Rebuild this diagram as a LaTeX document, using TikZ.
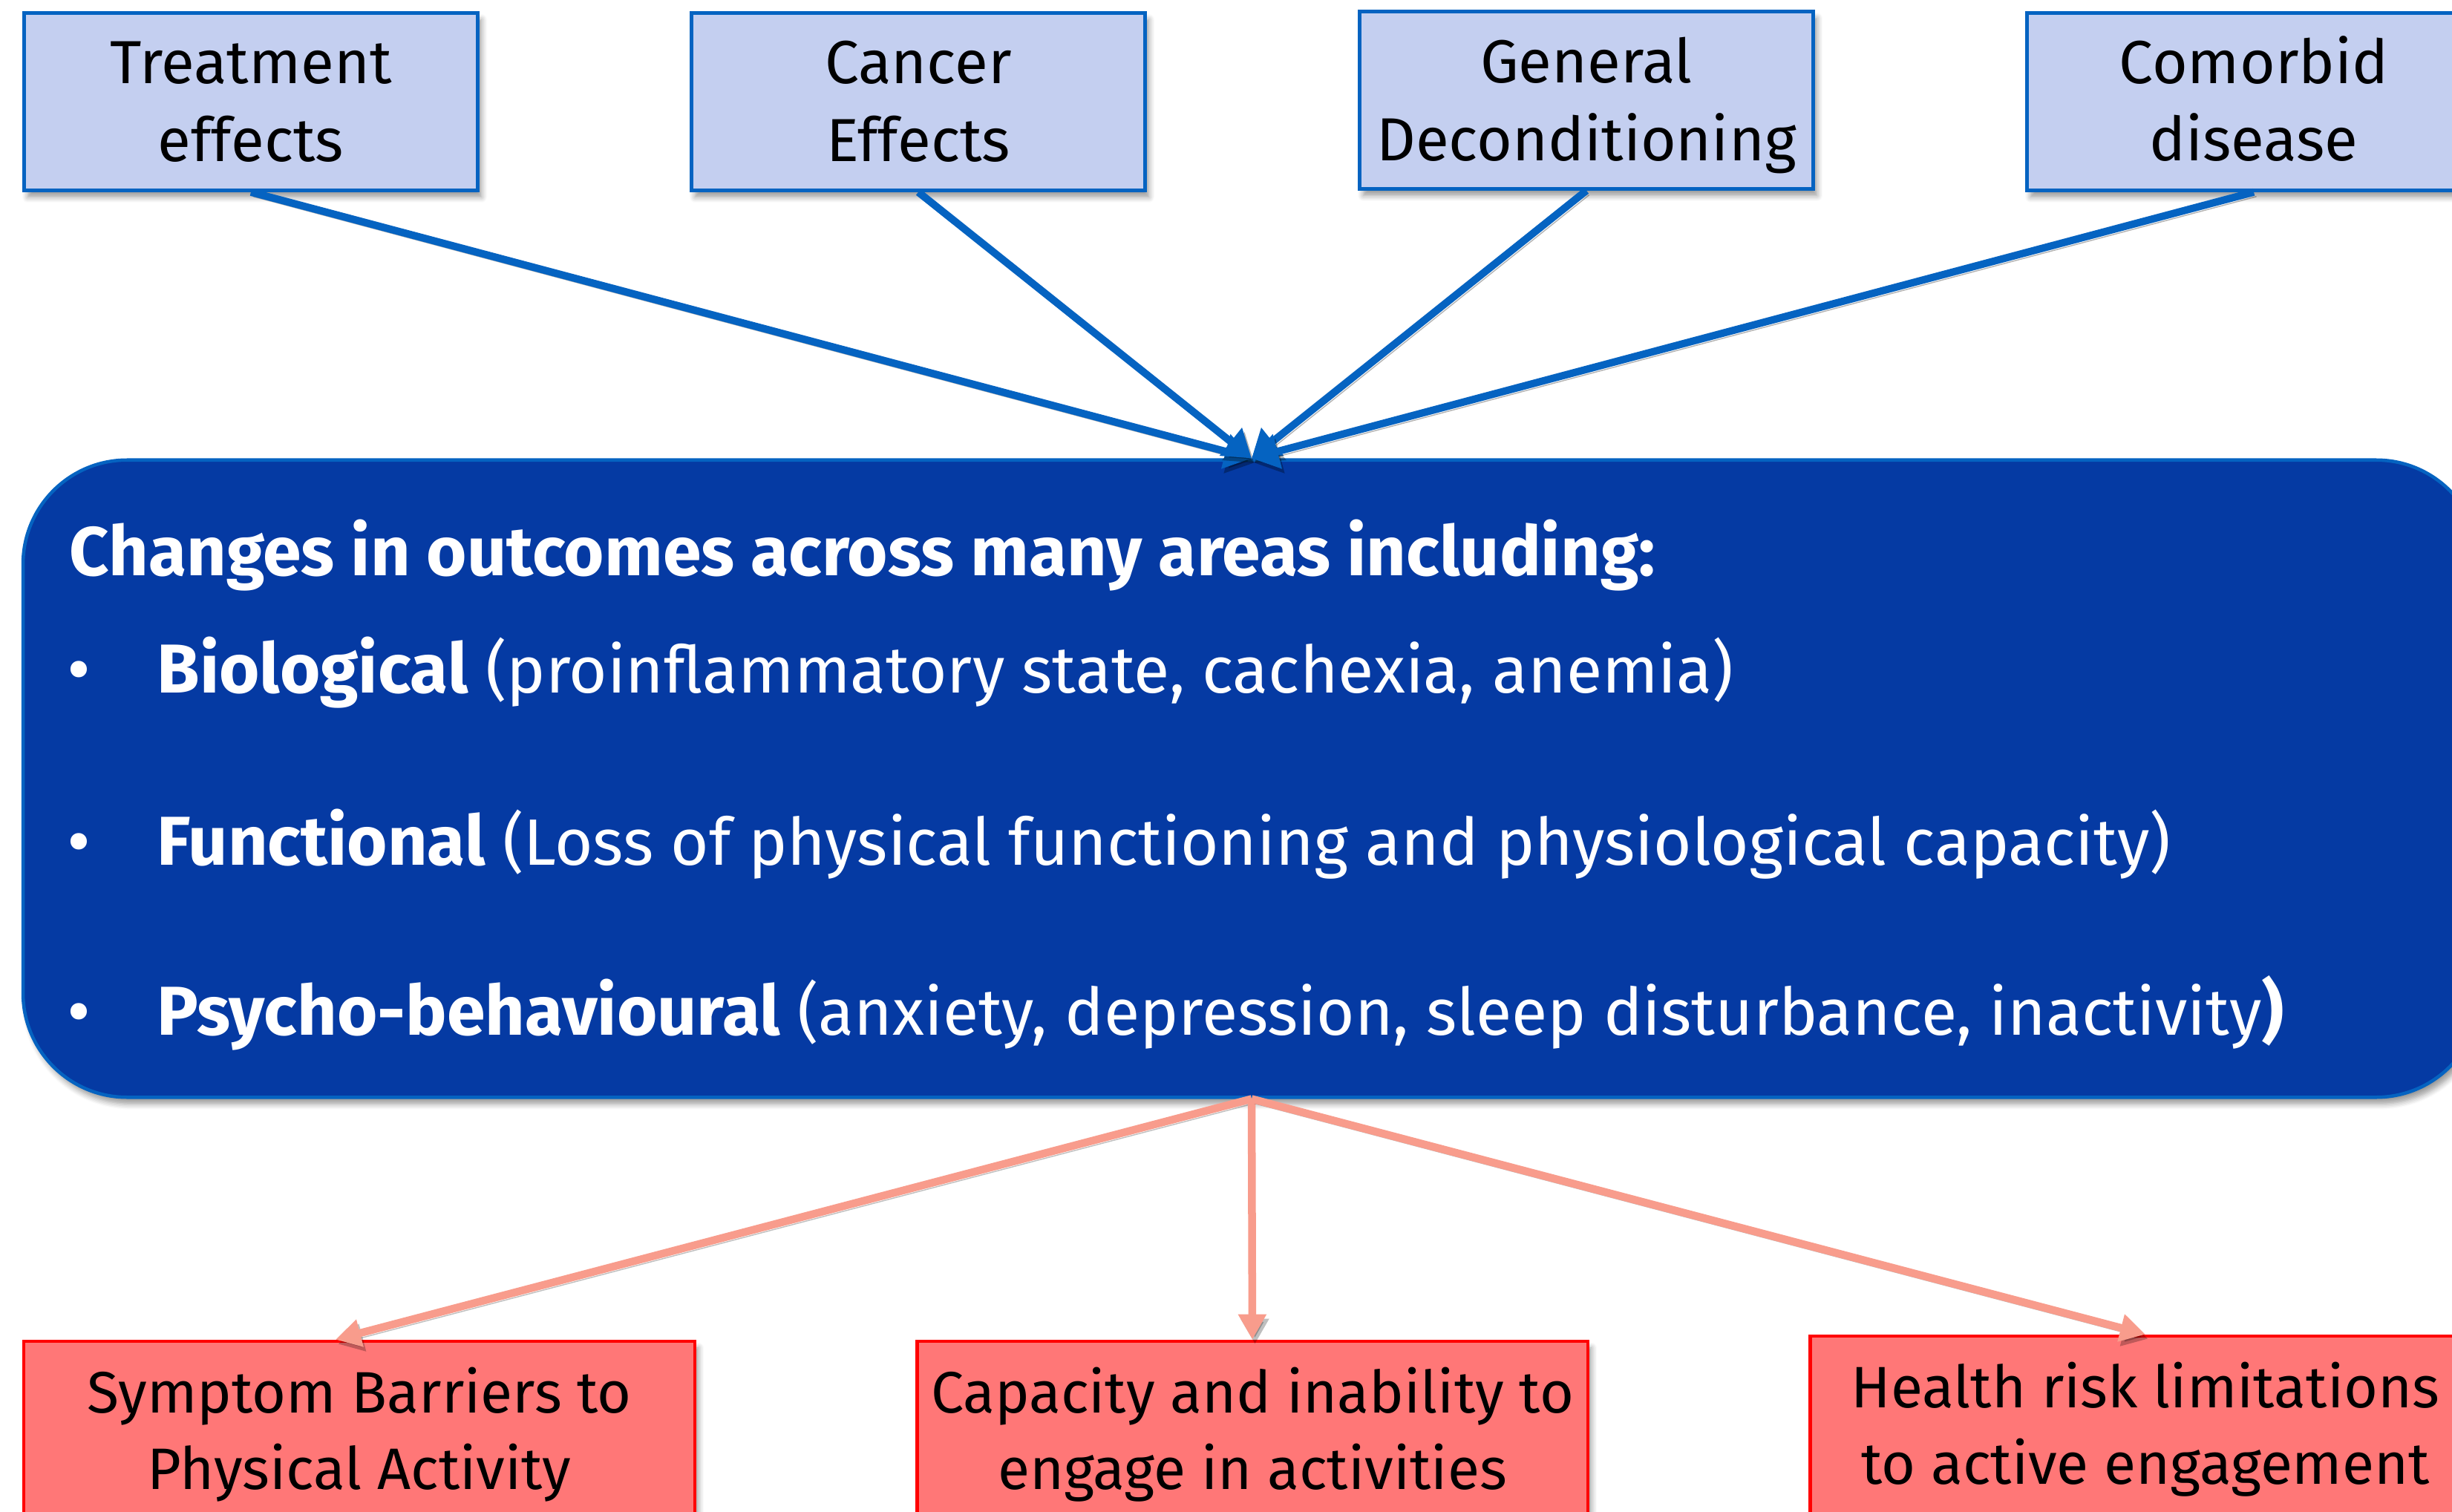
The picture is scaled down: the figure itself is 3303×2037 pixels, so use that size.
\documentclass[tikz,border=0pt]{standalone}
\usepackage{fontspec}
\setmainfont{Fira Sans}
\usetikzlibrary{arrows.meta,shadows.blur,calc}

\definecolor{lavbox}{RGB}{196,207,240}
\definecolor{edgeblue}{RGB}{5,99,193}
\definecolor{deepblue}{RGB}{5,58,163}
\definecolor{rosebox}{RGB}{255,119,119}
\definecolor{roseline}{RGB}{248,156,140}

% bold words in the summary box are set a little larger than the plain text
\newcommand{\keyword}[1]{{\fontsize{26.5}{30}\selectfont\bfseries #1}}

\tikzset{
  softshadow/.style={blur shadow={shadow xshift=0.5mm,shadow yshift=-0.9mm,shadow blur steps=6,shadow opacity=40}},
  causebox/.style={draw=edgeblue,line width=0.45mm,fill=lavbox,minimum width=6.11cm,minimum height=2.39cm,
    inner sep=0pt,softshadow},
  causetext/.style={align=center,inner sep=0pt,font=\fontsize{23.3}{29.8}\selectfont},
  resultbox/.style={draw=red,line width=0.45mm,fill=rosebox,minimum width=9.03cm,minimum height=2.4cm,
    inner sep=0pt,softshadow},
  resulttext/.style={align=center,inner sep=0pt,font=\fontsize{22.4}{29.3}\selectfont},
  hubbox/.style={draw=edgeblue,line width=0.45mm,fill=deepblue,rounded corners=1.4cm,
    minimum width=33.08cm,minimum height=8.58cm,inner sep=0pt,softshadow},
  hubtext/.style={anchor=base west,inner sep=0pt,text=white,font=\fontsize{25.1}{30}\selectfont},
  bulletmark/.style={hubtext,font=\fontsize{28}{30}\selectfont},
  inarrow/.style={draw=edgeblue,line width=0.1cm,-{Triangle[length=0.36cm,width=0.46cm]},
    preaction={draw=black,opacity=0.3,transform canvas={xshift=0.35mm,yshift=-0.6mm}}},
  outarrow/.style={draw=roseline,line width=0.105cm,-{Triangle[length=0.34cm,width=0.36cm]},
    preaction={draw=black,opacity=0.25,transform canvas={xshift=0.35mm,yshift=-0.6mm}}},
}

\begin{document}
\begin{tikzpicture}[x=0.01cm,y=-0.01cm]
\useasboundingbox (0,0) rectangle (3303,2037);
\clip (0,0) rectangle (3303,2037);

% causes along the top
\node[causebox] (treat) at (338,137) {};
\node[causebox] (cancer) at (1237,137) {};
\node[causebox] (decond) at (2137,135) {};
\node[causebox] (comorb) at (3036,137) {};
\node[causetext] (treattxt) at ($(treat)+(0,0)$) {Treatment\\effects};
\node[causetext] (cancertxt) at ($(cancer)+(0,0)$) {Cancer\\Effects};
\node[causetext] (decondtxt) at ($(decond)+(0,7)$) {General\\Deconditioning};
\node[causetext] (comorbtxt) at ($(comorb)+(0,-4)$) {Comorbid\\disease};

% central summary box
\node[hubbox] (hub) at (1686,1049) {};
\node[hubtext] (head) at (93,775) {\keyword{Changes in outcomes across many areas including:}};
\node[bulletmark] (b1) at (90,935) {•};
\node[hubtext] (bio) at (211,933) {\keyword{Biological} (proinflammatory state, cachexia, anemia)};
\node[bulletmark] (b2) at (90,1167) {•};
\node[hubtext] (func) at (211,1165) {\keyword{Functional} (Loss of physical functioning and physiological capacity)};
\node[bulletmark] (b3) at (90,1396) {•};
\node[hubtext] (psy) at (211,1394) {\keyword{Psycho-behavioural} (anxiety, depression, sleep disturbance, inactivity\keyword{)}};

% consequences along the bottom
\node[resultbox] (symp) at (484,1927) {};
\node[resultbox] (capa) at (1687,1927) {};
\node[resultbox] (risk) at (2890,1920) {};
\node[resulttext] (symptxt) at ($(symp)+(0,6)$) {Symptom Barriers to\\Physical Activity};
\node[resulttext] (capatxt) at ($(capa)+(0,6)$) {Capacity and inability to\\engage in activities};
\node[resulttext] (risktxt) at ($(risk)+(0,6)$) {Health risk limitations\\to active engagement};

% connectors
\foreach \src in {treat,cancer,decond,comorb}
  \draw[inarrow] (\src.south) -- (hub.north);
\draw[outarrow] (hub.south) -- ($(symp.north)+(-32,0)$);
\draw[outarrow] (hub.south) -- (capa.north);
\draw[outarrow] (hub.south) -- (risk.north);
\end{tikzpicture}
\end{document}
